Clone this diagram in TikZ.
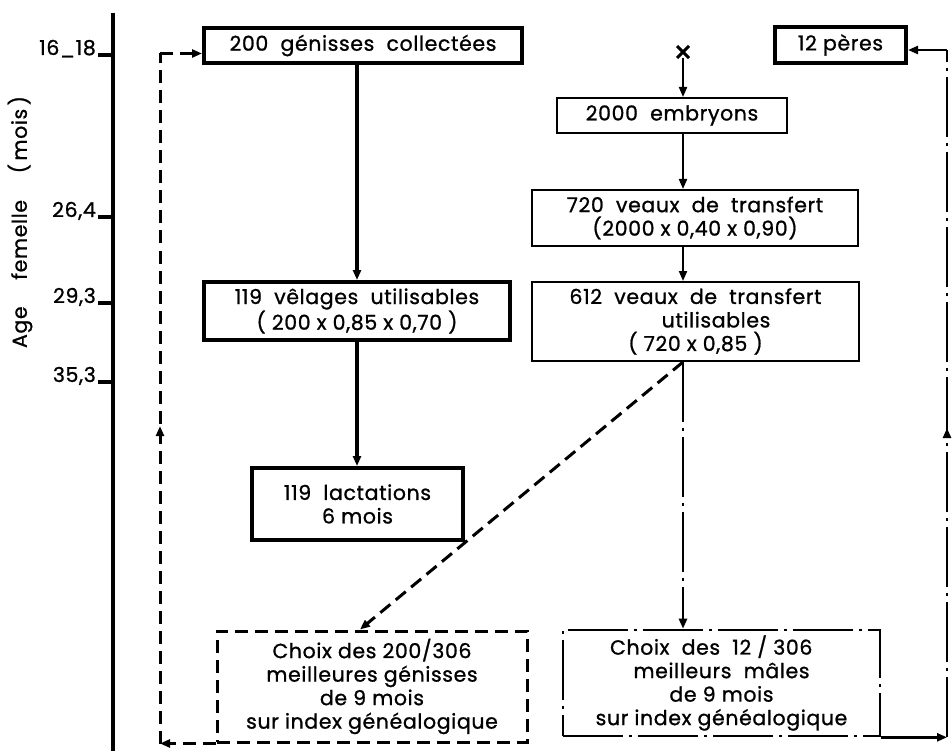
\documentclass[tikz,border=0pt]{standalone}
\usepackage{fontspec}
\setmainfont{Poppins}[LetterSpace=3,FakeBold=1]
\usetikzlibrary{arrows.meta,shapes.misc,decorations.markings}

\begin{document}
\begin{tikzpicture}[x=1pt,y=-1pt,
  font=\fontsize{20.5}{23.5}\selectfont,
  >={Triangle[length=10pt,width=8pt]},
  thickbox/.style={draw,line width=4pt,align=center,inner sep=0pt},
  thinbox/.style={draw,line width=2pt,align=center,inner sep=0pt},
  dashbox/.style={draw,line width=3pt,dash pattern=on 13pt off 7pt,align=center,inner sep=0pt},
  dotbox/.style={draw,line width=2.6pt,dash pattern=on 60pt off 6pt on 3pt off 6pt,align=center,inner sep=0pt},
  flowthick/.style={line width=3.5pt,->},
  flowthin/.style={line width=2pt,->},
  dashline/.style={line width=3pt,dash pattern=on 13pt off 7pt},
  dotline/.style={line width=2.6pt,dash pattern=on 60pt off 6pt on 3pt off 6pt},
  midarrow/.style={postaction={decorate,decoration={markings,
    mark=at position #1 with {\arrow{Triangle[length=10pt,width=8pt]}}}}}
]
\useasboundingbox (0,0) rectangle (952,751);

% Age axis
\draw[line width=3.5pt] (113,13) -- (113,751);
\foreach \y/\t in {55/16\_18, 217/{26,4}, 303/{29,3}, 382/{35,3}} {
  \draw[line width=3.5pt] (98,\y) -- (113,\y);
  \node[anchor=base east,inner sep=0pt] (tick\y) at (96,\y) {\t};
}
\node[rotate=90] (agelabel) at (20,222) {Age\hspace{1.3em}femelle\hspace{1.3em}(\,mois\,)};

% Female line
\node[thickbox,minimum width=318pt,minimum height=35pt] (gen) at (363,45.5) {200 \ génisses \ collectées};
\node[thickbox,minimum width=306pt,minimum height=58pt] (vel) at (357,311) {119 \ vêlages \ utilisables\\( 200 x 0,85 x 0,70 )};
\node[thickbox,minimum width=211pt,minimum height=72pt] (lact) at (357.5,504) {119 \ lactations\\6 mois};

% Transfer line
\node[thickbox,minimum width=131pt,minimum height=36pt] (peres) at (840.5,45) {12 pères};
\node[thinbox,minimum width=230pt,minimum height=35pt] (emb) at (672,115.5) {2000 \ embryons};
\node[thinbox,minimum width=326pt,minimum height=56pt] (v720) at (695,218) {720 \ veaux \ de \ transfert\\(2000 x 0,40 x 0,90)};
\node[thinbox,minimum width=327pt,minimum height=79pt] (v612) at (695.5,321.5) {612 \ veaux \ de \ transfert\\ \hspace{2em}utilisables\\( 720 x 0,85 )};

% Selection
\node[dashbox,minimum width=310pt,minimum height=111pt] (chf) at (372,686.5) {Choix des 200/306\\meilleures génisses\\de 9 mois\\sur index généalogique};
\node[dotbox,minimum width=317pt,minimum height=106pt] (chm) at (721.5,683) {Choix \ des \ 12 / 306\hspace*{1em}\\meilleurs \ mâles\hspace*{2.5em}\\de 9 mois\\sur index généalogique};

% Arrows
\draw[flowthick] (gen.south -| vel.north) -- (vel.north);
\draw[flowthick] (vel.south) -- (vel.south |- lact.north);

\node[cross out,draw,line width=3pt,minimum size=9pt,inner sep=0pt] (cross) at (683,52) {};
\draw[flowthin] (cross) -- (cross |- emb.north);
\draw[flowthin] (cross |- emb.south) -- (cross |- v720.north);
\draw[flowthin] (cross |- v720.south) -- (cross |- v612.north);
\draw[dashline,->] (cross |- v612.south) -- ([xshift=-12pt]chf.north);
\draw[dotline,->] (cross |- v612.south) -- (cross |- chm.north);

% Loops back
\coordinate (loopL) at (160,0);
\draw[dashline,->] (chf.south west) -- (chf.south west -| loopL);
\draw[dashline,midarrow=0.46] (chf.south west -| loopL) -- ([yshift=-8pt]gen.west -| loopL);
\draw[dashline,->] ([yshift=-8pt]gen.west -| loopL) -- ([yshift=-8pt]gen.west);

\coordinate (loopR) at (947,0);
\draw[dotline,->] (chm.south east) -- (chm.south east -| loopR);
\draw[dotline,midarrow=0.45] (chm.south east -| loopR) -- ([yshift=-5pt]peres.east -| loopR);
\draw[dotline,->] ([yshift=-5pt]peres.east -| loopR) -- ([yshift=-5pt]peres.east);

\end{tikzpicture}
\end{document}
